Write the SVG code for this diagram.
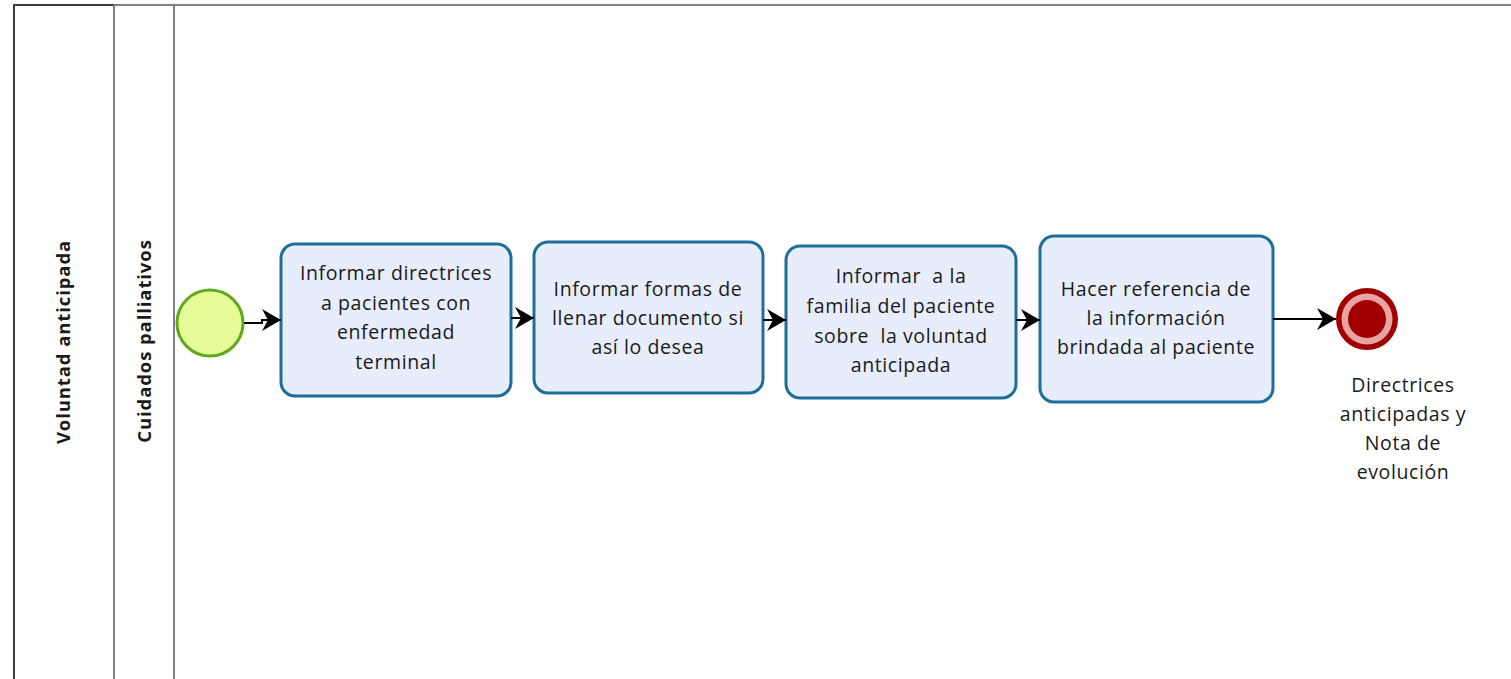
<svg xmlns="http://www.w3.org/2000/svg" width="1511" height="679" viewBox="0 0 1511 679">
  <style>
    .lane { stroke: #808080; stroke-width: 2; fill: none; }
    .lane-outer { stroke: #3c3c3c; stroke-width: 2; fill: none; }
    .lane-label { font-family: "Open Sans", "Noto Sans", "DejaVu Sans", sans-serif; font-size: 18.5px; font-weight: bold; letter-spacing: 0.9px; fill: #1a1a1a; text-anchor: middle; }
    .task rect { fill: #e8edfb; stroke: #1e6e9a; stroke-width: 3; }
    .task text, .label { font-family: "Open Sans", "Noto Sans", "DejaVu Sans", sans-serif; font-size: 19.5px; letter-spacing: 0.6px; fill: #1a1a1a; text-anchor: middle; white-space: pre; }
    .flow { stroke: #000; stroke-width: 2; fill: none; marker-end: url(#arrow); }
  </style>
  <defs>
    <marker id="arrow" viewBox="0 0 20 24" refX="19" refY="12" markerWidth="20" markerHeight="24" markerUnits="userSpaceOnUse" orient="auto">
      <path d="M0,1 L19,12 L0,23 L6,12 Z" fill="#000"/>
    </marker>
  </defs>

  <rect width="1511" height="679" fill="#fff"/>

  <!-- pool and lane borders -->
  <g id="pool">
    <line class="lane" x1="14" y1="5" x2="1511" y2="5"/>
    <line class="lane-outer" x1="14" y1="5" x2="114" y2="5"/>
    <line class="lane-outer" x1="14" y1="4" x2="14" y2="679"/>
    <line class="lane" x1="114" y1="5" x2="114" y2="679"/>
    <line class="lane" x1="174" y1="5" x2="174" y2="679"/>
    <text class="lane-label" transform="translate(70,342) rotate(-90)">Voluntad anticipada</text>
    <text class="lane-label" transform="translate(151,341) rotate(-90)">Cuidados palliativos</text>
  </g>

  <!-- start event -->
  <g id="start">
    <circle cx="210" cy="323" r="33" fill="#e6fc98" stroke="#62a81c" stroke-width="3"/>
  </g>

  <!-- tasks -->
  <g id="task1" class="task">
    <rect x="281" y="244" width="230" height="152" rx="14"/>
    <text x="396" y="280">Informar directrices</text>
    <text x="396" y="310">a pacientes con</text>
    <text x="396" y="339">enfermedad</text>
    <text x="396" y="369">terminal</text>
  </g>
  <g id="task2" class="task">
    <rect x="534" y="242" width="229" height="151" rx="14"/>
    <text x="648" y="296">Informar formas de</text>
    <text x="648" y="325">llenar documento si</text>
    <text x="648" y="354">así lo desea</text>
  </g>
  <g id="task3" class="task">
    <rect x="786" y="246" width="230" height="152" rx="14"/>
    <text x="901" y="283">Informar  a la</text>
    <text x="901" y="313">familia del paciente</text>
    <text x="901" y="343">sobre  la voluntad</text>
    <text x="901" y="372">anticipada</text>
  </g>
  <g id="task4" class="task">
    <rect x="1040" y="236" width="233" height="166" rx="14"/>
    <text x="1156" y="296">Hacer referencia de</text>
    <text x="1156" y="325">la información</text>
    <text x="1156" y="354">brindada al paciente</text>
  </g>

  <!-- end event -->
  <g id="end">
    <circle cx="1367" cy="319" r="31" fill="#a10000"/>
    <circle cx="1367" cy="319" r="25.5" fill="#e8a3a3"/>
    <circle cx="1367" cy="319" r="19" fill="#a10000"/>
    <text class="label" x="1403" y="392">Directrices</text>
    <text class="label" x="1403" y="421">anticipadas y</text>
    <text class="label" x="1403" y="450">Nota de</text>
    <text class="label" x="1403" y="479">evolución</text>
  </g>

  <!-- sequence flows -->
  <g id="connectors">
    <polyline class="flow" points="244,323 262,323 262,320 281,320"/>
    <line class="flow" x1="511" y1="318" x2="534" y2="318"/>
    <line class="flow" x1="763" y1="320" x2="786" y2="320"/>
    <line class="flow" x1="1016" y1="320" x2="1040" y2="320"/>
    <line class="flow" x1="1273" y1="319" x2="1336" y2="319"/>
  </g>
</svg>
